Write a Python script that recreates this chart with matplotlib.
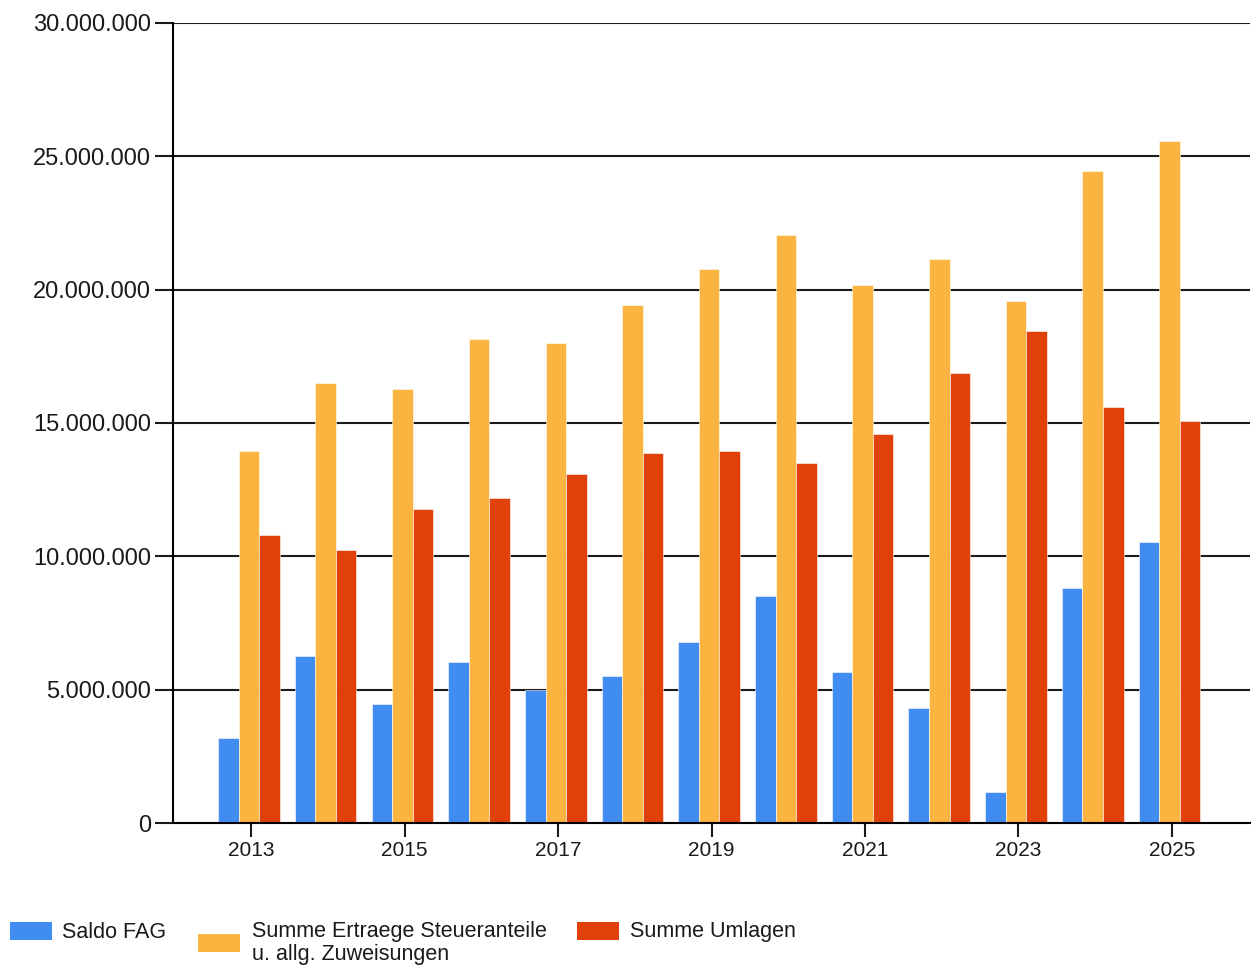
import numpy as np
import matplotlib.pyplot as plt
from matplotlib.patches import Rectangle
from matplotlib.ticker import FuncFormatter

# Data
years = [2013, 2014, 2015, 2016, 2017, 2018, 2019, 2020, 2021, 2022, 2023, 2024, 2025]
saldo_fag = [3.19e6, 6.26e6, 4.46e6, 6.04e6, 4.99e6, 5.51e6, 6.79e6, 8.51e6, 5.66e6, 4.31e6, 1.16e6, 8.81e6, 10.54e6]
ertraege = [13.95e6, 16.5e6, 16.27e6, 18.15e6, 18.0e6, 19.42e6, 20.77e6, 22.05e6, 20.17e6, 21.15e6, 19.57e6, 24.45e6, 25.57e6]
umlagen = [10.8e6, 10.24e6, 11.77e6, 12.19e6, 13.09e6, 13.87e6, 13.95e6, 13.5e6, 14.59e6, 16.87e6, 18.45e6, 15.6e6, 15.07e6]

labels = ['Saldo FAG', 'Summe Ertraege Steueranteile\nu. allg. Zuweisungen', 'Summe Umlagen']
colors = ['#418CF0', '#FCB441', '#E0400A']

plt.rcParams['font.family'] = ['Liberation Sans', 'DejaVu Sans']

W, H = 1252, 966
fig = plt.figure(figsize=(W / 100, H / 100), dpi=100)
ax = fig.add_axes([173 / W, 1 - 823 / H, (1250 - 173) / W, 800 / H])

x = np.array(years)
w = 0.268
for i, (vals, c) in enumerate(zip([saldo_fag, ertraege, umlagen], colors)):
    ax.bar(x + (i - 1) * w - 0.03, vals, width=w, color=c, edgecolor='white', linewidth=0.4)

ax.set_xlim(2011.98, 2026.02)
ax.set_ylim(0, 30e6)
ax.set_yticks(np.arange(0, 30e6 + 1, 5e6))
ax.yaxis.set_major_formatter(FuncFormatter(lambda v, p: f'{int(v):,}'.replace(',', '.')))
ax.set_xticks(years[::2])

for y in np.arange(5e6, 30e6 + 1, 5e6):
    ax.axhline(y, color='#1a1a1a', linewidth=1.5, zorder=0)

for s in ['top', 'right']:
    ax.spines[s].set_visible(False)
ax.spines['left'].set_linewidth(1.5)
ax.spines['bottom'].set_linewidth(1.5)
ax.tick_params(axis='y', length=13, width=1.5, labelsize=17, pad=3, colors='#1a1a1a')
ax.tick_params(axis='x', length=10, width=1.5, labelsize=15, pad=3, colors='#1a1a1a')

# legend drawn in pixel positions at the bottom
legend_items = [(10, 931, 62, 932), (198, 943, 252, 943), (577, 931, 630, 932)]
for (px, py, tx, ty), lab, c in zip(legend_items, labels, colors):
    fig.add_artist(Rectangle((px / W, 1 - (py + 9) / H), 42 / W, 18 / H,
                             facecolor=c, edgecolor='none', transform=fig.transFigure))
    fig.text(tx / W, 1 - ty / H, lab, ha='left', va='center', fontsize=15.5,
             color='#1a1a1a', linespacing=1.15)

fig.savefig('out.png', dpi=100)
